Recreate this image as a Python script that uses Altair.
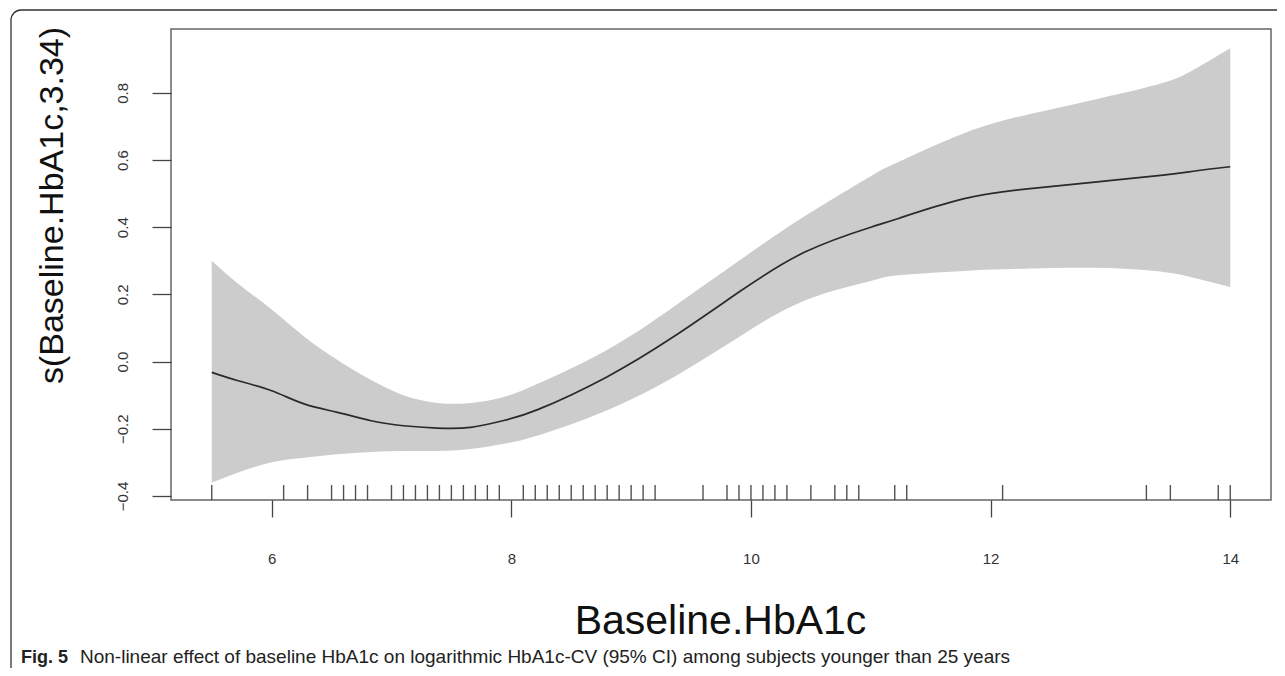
import altair as alt
import pandas as pd

# ---- data ----
x_grid = [5.5, 5.72, 6.0, 6.27, 6.55, 6.83, 7.1, 7.38, 7.66, 7.93, 8.22, 8.79,
          9.35, 9.9, 10.45, 11.0, 11.23, 11.78, 12.33, 12.89, 13.44, 13.72, 14.0]
fit = [-0.032, -0.057, -0.087, -0.126, -0.151, -0.176, -0.191, -0.198, -0.196,
       -0.176, -0.143, -0.047, 0.073, 0.207, 0.326, 0.40, 0.426, 0.485, 0.515,
       0.535, 0.555, 0.568, 0.58]
upper = [0.30, 0.232, 0.155, 0.075, 0.005, -0.055, -0.10, -0.123, -0.123, -0.106,
         -0.066, 0.033, 0.162, 0.30, 0.433, 0.552, 0.594, 0.68, 0.737, 0.782,
         0.83, 0.874, 0.933]
lower = [-0.36, -0.33, -0.30, -0.286, -0.276, -0.269, -0.266, -0.266, -0.26,
         -0.245, -0.22, -0.146, -0.047, 0.073, 0.182, 0.24, 0.257, 0.27, 0.277,
         0.279, 0.267, 0.247, 0.222]
rug_x = [5.5, 6.1, 6.3, 6.5, 6.6, 6.7, 6.8, 7.0, 7.1, 7.2, 7.3, 7.4, 7.5, 7.6,
         7.7, 7.8, 7.9, 8.1, 8.2, 8.3, 8.4, 8.5, 8.6, 8.7, 8.8, 8.9, 9.0, 9.1,
         9.2, 9.6, 9.8, 9.9, 10.0, 10.1, 10.2, 10.3, 10.5, 10.7, 10.8, 10.9,
         11.2, 11.3, 12.1, 13.3, 13.5, 13.9, 14.0]
x_ticks = [6, 8, 10, 12, 14]
y_ticks = [-0.4, -0.2, 0.0, 0.2, 0.4, 0.6, 0.8]
x_title = "Baseline.HbA1c"
y_title = "s(Baseline.HbA1c,3.34)"
caption_bold = "Fig. 5"
caption_text = ("Non-linear effect of baseline HbA1c on logarithmic HbA1c-CV (95% CI) "
                "among subjects younger than 25 years")

curve = pd.DataFrame({"x": x_grid, "fit": fit, "upper": upper, "lower": lower})
rug = pd.DataFrame({"x": rug_x})
one = pd.DataFrame({"k": [0]})

FONT = "Liberation Sans, Arial, Helvetica, sans-serif"
W, H = 1100, 471

xscale = alt.Scale(domain=[5.16, 14.34], nice=False, zero=False)
yscale = alt.Scale(domain=[-0.412, 0.99], nice=False, zero=False)

xaxis = alt.Axis(values=x_ticks, title=x_title, grid=False, domain=False,
                 tickSize=17, tickColor="#444", tickWidth=1.3,
                 labelFont=FONT, labelFontSize=15, labelColor="#333",
                 labelBaseline="middle", labelPadding=41,
                 titleFont=FONT, titleFontSize=41, titleFontWeight="normal",
                 titleColor="#111", titleBaseline="alphabetic",
                 titleX=549, titleY=133, titleAlign="center")
yaxis = alt.Axis(values=y_ticks, title=y_title, grid=False, domain=False,
                 format=".1f",
                 tickSize=19, tickColor="#444", tickWidth=1.3,
                 labelFont=FONT, labelFontSize=15, labelColor="#333",
                 labelAngle=270, labelAlign="center", labelBaseline="middle",
                 labelPadding=30,
                 titleFont=FONT, titleFontSize=34, titleFontWeight="normal",
                 titleColor="#111", titleAngle=270, titleAlign="center",
                 titleBaseline="alphabetic", titleX=-109, titleY=176)

band = alt.Chart(curve).mark_area(color="#cccccc", opacity=1,
                                  interpolate="natural").encode(
    x=alt.X("x:Q", scale=xscale, axis=xaxis),
    y=alt.Y("lower:Q", scale=yscale, axis=yaxis),
    y2="upper:Q",
)
line = alt.Chart(curve).mark_line(color="#2a2a2a", strokeWidth=1.7,
                                  interpolate="natural").encode(
    x=alt.X("x:Q", scale=xscale, axis=xaxis),
    y=alt.Y("fit:Q", scale=yscale, axis=yaxis),
)
rugs = alt.Chart(rug).mark_rule(color="#333333", strokeWidth=1.4,
                                opacity=0.85).encode(
    x=alt.X("x:Q", scale=xscale, axis=xaxis),
    y=alt.value(H - 15),
    y2=alt.value(H),
)
frame = alt.Chart(one).mark_rect(fill="transparent", stroke="#333333",
                                 strokeWidth=1.3, cornerRadius=10).encode(
    x=alt.value(-160), x2=alt.value(1300),
    y=alt.value(-19), y2=alt.value(700),
)
cap1 = alt.Chart(one).mark_text(font=FONT, fontSize=18, fontWeight="bold",
                                align="left", baseline="alphabetic",
                                color="#222").encode(
    x=alt.value(-150), y=alt.value(634), text=alt.value(caption_bold))
cap2 = alt.Chart(one).mark_text(font=FONT, fontSize=19, align="left",
                                baseline="alphabetic", color="#222").encode(
    x=alt.value(-91), y=alt.value(634), text=alt.value(caption_text))

chart = alt.layer(frame, band, line, rugs, cap1, cap2).properties(
    width=W, height=H,
    autosize=alt.AutoSizeParams(type="none"),
    padding={"left": 163, "top": 21, "right": 6, "bottom": 168},
).configure_view(stroke="#666666", strokeWidth=1.5)

chart.save("out.html", embed_options={"renderer": "svg", "actions": False})
